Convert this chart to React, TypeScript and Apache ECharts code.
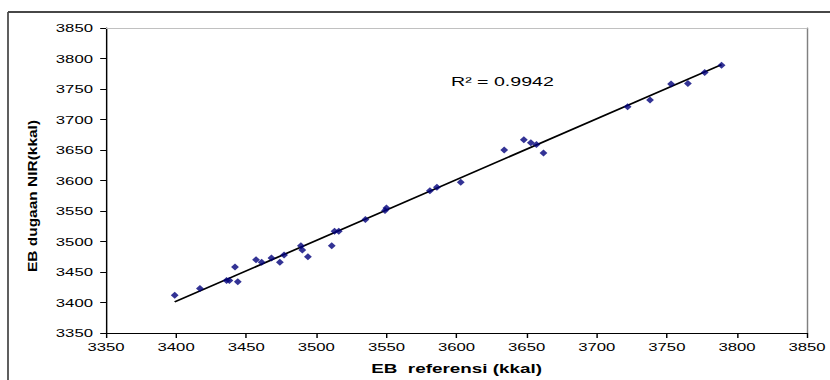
import React, { useEffect, useRef } from "react";
import * as echarts from "echarts";

// EB referensi (kkal) vs EB dugaan NIR (kkal)
const refValues = [
  3399, 3417, 3436, 3438, 3442, 3444, 3457, 3461, 3468, 3474, 3477, 3489,
  3490, 3494, 3511, 3513, 3516, 3535, 3549, 3550, 3581, 3586, 3603, 3634,
  3648, 3653, 3657, 3662, 3722, 3738, 3753, 3765, 3777, 3789,
];
const nirValues = [
  3412, 3423, 3436, 3436, 3458, 3434, 3470, 3466, 3473, 3466, 3478, 3493,
  3486, 3475, 3493, 3517, 3517, 3536, 3551, 3555, 3583, 3589, 3597, 3650,
  3667, 3662, 3659, 3645, 3721, 3732, 3758, 3759, 3777, 3789,
];
// trend line end points
const trendX = [3399, 3789];
const trendY = [3401, 3790];

const axisMin = 3350;
const axisMax = 3850;
const axisStep = 50;

const xTitle = "EB  referensi (kkal)";
const yTitle = "EB dugaan NIR(kkal)";
const r2Text = "R² = 0.9942";

const INNER_W = 572;
const S = 830 / INNER_W;
const FONT = "'Liberation Sans', Arial, sans-serif";

export default function App() {
  const ref = useRef<HTMLDivElement>(null);

  useEffect(() => {
    document.body.style.margin = "0";
    const chart = echarts.init(ref.current!, null, { renderer: "svg" });
    const points = refValues.map((x, i) => [x, nirValues[i]]);
    const trend = trendX.map((x, i) => [x, trendY[i]]);
    const plain = (v: number) => String(v);

    chart.setOption({
      animation: false,
      backgroundColor: "#ffffff",
      grid: {
        left: 106 / S,
        right: (830 - 812) / S,
        top: 28,
        bottom: 47,
      },
      xAxis: [
        {
          type: "value",
          min: axisMin,
          max: axisMax,
          interval: axisStep,
          position: "bottom",
          axisLine: { show: true, onZero: false, lineStyle: { color: "#000", width: 1 } },
          axisTick: { show: true, inside: false, length: 5, lineStyle: { color: "#000" } },
          axisLabel: {
            show: true,
            margin: 8,
            color: "#000",
            fontSize: 11.5,
            fontFamily: FONT,
            formatter: plain,
          },
          splitLine: { show: false },
          name: xTitle,
          nameLocation: "middle",
          nameGap: 29,
          nameTextStyle: {
            color: "#000",
            fontSize: 13,
            fontWeight: "bold",
            fontFamily: FONT,
          },
        },
        {
          type: "value",
          min: axisMin,
          max: axisMax,
          interval: axisStep,
          position: "top",
          axisLine: { show: true, onZero: false, lineStyle: { color: "#c0c0c0", width: 1 } },
          axisTick: { show: false },
          axisLabel: { show: false },
          splitLine: { show: false },
        },
      ],
      yAxis: [
        {
          type: "value",
          min: axisMin,
          max: axisMax,
          interval: axisStep,
          position: "left",
          axisLine: { show: true, onZero: false, lineStyle: { color: "#000", width: 1 } },
          axisTick: { show: true, inside: false, length: 4, lineStyle: { color: "#000" } },
          axisLabel: {
            show: true,
            margin: 9,
            color: "#000",
            fontSize: 11.5,
            fontFamily: FONT,
            formatter: plain,
          },
          splitLine: { show: false },
        },
        {
          type: "value",
          min: axisMin,
          max: axisMax,
          interval: axisStep,
          position: "right",
          axisLine: { show: true, onZero: false, lineStyle: { color: "#808080", width: 1 } },
          axisTick: { show: false },
          axisLabel: { show: false },
          splitLine: { show: false },
        },
      ],
      series: [
        {
          type: "line",
          data: trend,
          xAxisIndex: 0,
          yAxisIndex: 0,
          symbol: "none",
          lineStyle: { color: "#000", width: 1.6 },
          z: 2,
        },
        {
          type: "scatter",
          data: points,
          xAxisIndex: 0,
          yAxisIndex: 0,
          symbol: "diamond",
          symbolSize: [5.4, 7],
          itemStyle: { color: "#00007a" },
          z: 3,
        },
      ],
      graphic: [
        {
          type: "line",
          shape: { x1: 8 / S, y1: 12, x2: INNER_W + 10, y2: 12 },
          style: { stroke: "#474747", lineWidth: 2 },
        },
        {
          type: "line",
          shape: { x1: 8 / S, y1: 12, x2: 8 / S, y2: 400 },
          style: { stroke: "#474747", lineWidth: 1.2 },
        },
        {
          type: "text",
          x: 32.8 / S,
          y: 196,
          rotation: Math.PI / 2,
          scaleX: 1.19,
          scaleY: 0.7,
          style: {
            text: yTitle,
            font: `bold 13px ${FONT}`,
            fill: "#000",
            align: "center",
            verticalAlign: "middle",
            textAlign: "center",
            textVerticalAlign: "middle",
          },
        },
        {
          type: "text",
          x: 451 / S,
          y: 82,
          style: {
            text: r2Text,
            font: `13.5px ${FONT}`,
            fill: "#000",
            align: "left",
            verticalAlign: "middle",
            textAlign: "left",
            textVerticalAlign: "middle",
          },
        },
      ],
    });

    return () => chart.dispose();
  }, []);

  return (
    <div
      style={{
        position: "absolute",
        left: 0,
        top: 0,
        width: 830,
        height: 380,
        overflow: "hidden",
        background: "#fff",
      }}
    >
      <div
        ref={ref}
        style={{
          width: INNER_W,
          height: 380,
          transform: `scaleX(${S})`,
          transformOrigin: "0 0",
        }}
      />
    </div>
  );
}
